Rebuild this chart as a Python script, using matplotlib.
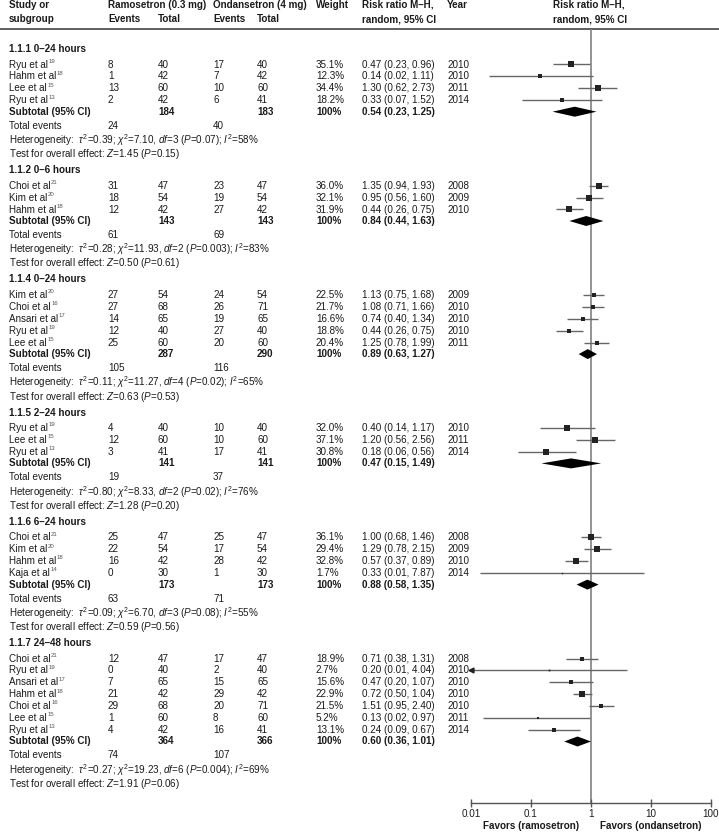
import numpy as np
import matplotlib
matplotlib.use('Agg')
import matplotlib.pyplot as plt

plt.rcParams['font.family'] = ['Liberation Sans', 'DejaVu Sans']
plt.rcParams['mathtext.fontset'] = 'custom'
plt.rcParams['mathtext.rm'] = 'Liberation Sans'
plt.rcParams['mathtext.it'] = 'Liberation Sans:italic'
plt.rcParams['mathtext.bf'] = 'Liberation Sans:bold'

# ---- data ----
sec_titles = ["1.1.1 0–24 hours", "1.1.2 0–6 hours", "1.1.4 0–24 hours",
              "1.1.5 2–24 hours", "1.1.6 6–24 hours", "1.1.7 24–48 hours"]

study_names = [
    ["Ryu et al", "Hahm et al", "Lee et al", "Ryu et al"],
    ["Choi et al", "Kim et al", "Hahm et al"],
    ["Kim et al", "Choi et al", "Ansari et al", "Ryu et al", "Lee et al"],
    ["Ryu et al", "Lee et al", "Ryu et al"],
    ["Choi et al", "Kim et al", "Hahm et al", "Kaja et al"],
    ["Choi et al", "Ryu et al", "Ansari et al", "Hahm et al", "Choi et al", "Lee et al", "Ryu et al"],
]
study_refs = [
    [19, 18, 15, 13],
    [21, 20, 18],
    [20, 16, 17, 19, 15],
    [19, 15, 13],
    [21, 20, 18, 14],
    [21, 19, 17, 18, 16, 15, 13],
]
ram_events = [[8, 1, 13, 2], [31, 18, 12], [27, 27, 14, 12, 25], [4, 12, 3],
              [25, 22, 16, 0], [12, 0, 7, 21, 29, 1, 4]]
ram_total = [[40, 42, 60, 42], [47, 54, 42], [54, 68, 65, 40, 60], [40, 60, 41],
             [47, 54, 42, 30], [47, 40, 65, 42, 68, 60, 42]]
ond_events = [[17, 7, 10, 6], [23, 19, 27], [24, 26, 19, 27, 20], [10, 10, 17],
              [25, 17, 28, 1], [17, 2, 15, 29, 20, 8, 16]]
ond_total = [[40, 42, 60, 41], [47, 54, 42], [54, 71, 65, 40, 60], [40, 60, 41],
             [47, 54, 42, 30], [47, 40, 65, 42, 71, 60, 41]]
weights = [[35.1, 12.3, 34.4, 18.2], [36.0, 32.1, 31.9], [22.5, 21.7, 16.6, 18.8, 20.4],
           [32.0, 37.1, 30.8], [36.1, 29.4, 32.8, 1.7], [18.9, 2.7, 15.6, 22.9, 21.5, 5.2, 13.1]]
rr = [[0.47, 0.14, 1.30, 0.33], [1.35, 0.95, 0.44], [1.13, 1.08, 0.74, 0.44, 1.25],
      [0.40, 1.20, 0.18], [1.00, 1.29, 0.57, 0.33], [0.71, 0.20, 0.47, 0.72, 1.51, 0.13, 0.24]]
rr_lo = [[0.23, 0.02, 0.62, 0.07], [0.94, 0.56, 0.26], [0.75, 0.71, 0.40, 0.26, 0.78],
         [0.14, 0.56, 0.06], [0.68, 0.78, 0.37, 0.014], [0.38, 0.0098, 0.20, 0.50, 0.95, 0.016, 0.09]]
rr_hi = [[0.96, 1.11, 2.73, 1.52], [1.93, 1.60, 0.75], [1.68, 1.66, 1.34, 0.75, 1.99],
         [1.17, 2.56, 0.56], [1.46, 2.15, 0.89, 7.87], [1.31, 4.04, 1.07, 1.04, 2.40, 0.97, 0.67]]
years = [[2010, 2010, 2011, 2014], [2008, 2009, 2010], [2009, 2010, 2010, 2010, 2011],
         [2010, 2011, 2014], [2008, 2009, 2010, 2014], [2008, 2010, 2010, 2010, 2010, 2011, 2014]]

sub_ram_total = [184, 143, 287, 141, 173, 364]
sub_ond_total = [183, 143, 290, 141, 173, 366]
sub_rr = [0.54, 0.84, 0.89, 0.47, 0.88, 0.60]
sub_lo = [0.23, 0.44, 0.63, 0.15, 0.58, 0.36]
sub_hi = [1.25, 1.63, 1.27, 1.49, 1.35, 1.01]
ev_ram = [24, 61, 105, 19, 63, 74]
ev_ond = [40, 69, 116, 37, 71, 107]
het_tau2 = ["0.39", "0.28", "0.11", "0.80", "0.09", "0.27"]
het_chi2 = ["7.10", "11.93", "11.27", "8.33", "6.70", "19.23"]
het_df = [3, 2, 4, 2, 3, 6]
het_p = ["0.07", "0.003", "0.02", "0.02", "0.08", "0.004"]
het_i2 = [58, 83, 65, 76, 55, 69]
z_val = ["1.45", "0.50", "0.63", "1.28", "0.59", "1.91"]
z_p = ["0.15", "0.61", "0.53", "0.20", "0.56", "0.06"]

# ---- layout (pixel units) ----
W, H = 719, 833
FS = 7.1
TXT = '#1a1a1a'
X_STUDY, X_REV, X_RTOT, X_OEV, X_OTOT, X_W, X_RR, X_YR, X_RH = 9, 108, 158, 213, 257, 316, 362, 447, 553
Y_LINE, Y_AXIS = 29, 803
X_AX0, X_AX1 = 471, 710.5

fig = plt.figure(figsize=(W / 100, H / 100), dpi=100)
ax = fig.add_axes([0, 0, 1, 1])
ax.set_xlim(0, W)
ax.set_ylim(H, 0)
ax.axis('off')
renderer = fig.canvas.get_renderer()

fax = fig.add_axes([X_AX0 / W, (H - Y_AXIS) / H, (X_AX1 - X_AX0) / W, (Y_AXIS - Y_LINE) / H])
fax.set_xscale('log')
fax.set_xlim(0.01, 100)
fax.set_ylim(Y_AXIS, Y_LINE)
fax.patch.set_alpha(0)
for s in ['top', 'left', 'right']:
    fax.spines[s].set_visible(False)
fax.spines['bottom'].set_color('#555555')
fax.spines['bottom'].set_linewidth(1)
fax.set_yticks([])
fax.set_xticks([0.01, 0.1, 1, 10, 100])
fax.set_xticklabels(["0.01", "0.1", "1", "10", "100"])
fax.xaxis.set_minor_locator(matplotlib.ticker.NullLocator())
fax.tick_params(axis='x', direction='inout', length=6, width=1, color='#555555',
                labelsize=FS, labelcolor=TXT, pad=1.5)
fax.axvline(1, color='#808080', lw=1.2, zorder=1)


def t(x, y, s, bold=False):
    return ax.text(x, y, s, fontsize=FS, color=TXT, va='center', ha='left',
                   fontweight='bold' if bold else 'normal')


def study_label(x, y, name, ref):
    txt = t(x, y, name)
    bb = txt.get_window_extent(renderer=renderer)
    ax.text(x + bb.width + 0.5, y - 3.2, str(ref), fontsize=4.3, color='#555555',
            va='center', ha='left')


# header
t(X_STUDY, 4.5, "Study or", True)
t(X_STUDY, 19, "subgroup", True)
t(X_REV, 4.5, "Ramosetron (0.3 mg)", True)
t(X_REV, 19, "Events", True)
t(X_RTOT, 19, "Total", True)
t(X_OEV, 4.5, "Ondansetron (4 mg)", True)
t(X_OEV, 19, "Events", True)
t(X_OTOT, 19, "Total", True)
t(X_W, 4.5, "Weight", True)
t(X_RR, 4.5, "Risk ratio M–H,", True)
t(X_RR, 19, "random, 95% CI", True)
t(X_YR, 4.5, "Year", True)
t(X_RH, 4.5, "Risk ratio M–H,", True)
t(X_RH, 19, "random, 95% CI", True)
ax.plot([0, W], [Y_LINE, Y_LINE], color='#444444', lw=1.2)

y = 49
for k in range(len(sec_titles)):
    t(X_STUDY, y, sec_titles[k], True)
    y += 15.5
    for i in range(len(study_names[k])):
        study_label(X_STUDY, y, study_names[k][i], study_refs[k][i])
        t(X_REV, y, str(ram_events[k][i]))
        t(X_RTOT, y, str(ram_total[k][i]))
        t(X_OEV, y, str(ond_events[k][i]))
        t(X_OTOT, y, str(ond_total[k][i]))
        t(X_W, y, "%.1f%%" % weights[k][i])
        t(X_RR, y, "%.2f (%.2f, %.2f)" % (rr[k][i], rr_lo[k][i], rr_hi[k][i]))
        t(X_YR, y, str(years[k][i]))
        lo = max(rr_lo[k][i], 0.01)
        fax.plot([lo, rr_hi[k][i]], [y, y], color='#666666', lw=1, solid_capstyle='butt', zorder=2)
        if rr_lo[k][i] < 0.01:
            fax.plot([0.01], [y], marker='<', ms=3.5, color='#222222', clip_on=False, zorder=3)
        side = 6.2 * np.sqrt(weights[k][i] / 35.0) * 0.72
        fax.plot([rr[k][i]], [y], marker='s', ms=side, color='#222222', mew=0, zorder=3)
        y += 11.9
    y += 11.5 - 11.9
    t(X_STUDY, y, "Subtotal (95% CI)", True)
    t(X_RTOT, y, str(sub_ram_total[k]), True)
    t(X_OTOT, y, str(sub_ond_total[k]), True)
    t(X_W, y, "100%", True)
    t(X_RR, y, "%.2f (%.2f, %.2f)" % (sub_rr[k], sub_lo[k], sub_hi[k]), True)
    fax.fill([sub_lo[k], sub_rr[k], sub_hi[k], sub_rr[k]], [y, y - 5, y, y + 5],
             color='black', lw=0, zorder=3)
    y += 14
    t(X_STUDY, y, "Total events")
    t(X_REV, y, str(ev_ram[k]))
    t(X_OEV, y, str(ev_ond[k]))
    y += 15.5
    t(X_STUDY, y - 1, "Heterogeneity:  $\\tau^2$=%s; $\\chi^2$=%s, $df$=%d ($P$=%s); $I^2$=%d%%"
      % (het_tau2[k], het_chi2[k], het_df[k], het_p[k], het_i2[k]))
    y += 12
    t(X_STUDY, y + 1, "Test for overall effect: $Z$=%s ($P$=%s)" % (z_val[k], z_p[k]))
    y += 17

ax.text(531, 826, "Favors (ramosetron)", fontsize=FS, color=TXT, fontweight='bold', ha='center', va='center')
ax.text(651, 826, "Favors (ondansetron)", fontsize=FS, color=TXT, fontweight='bold', ha='center', va='center')

fig.savefig('out.png', dpi=100)
